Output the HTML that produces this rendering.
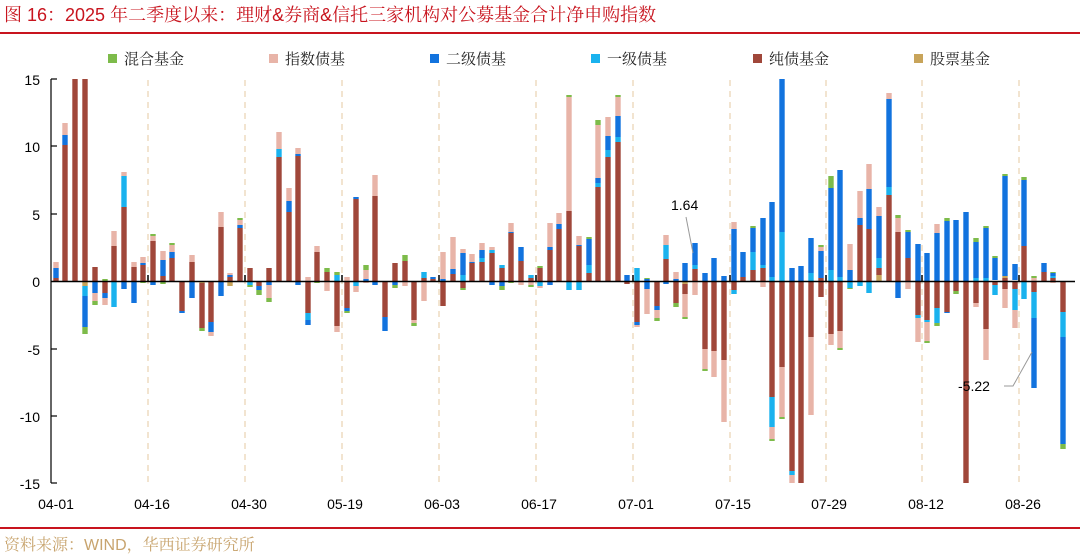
<!DOCTYPE html>
<html><head><meta charset="utf-8"><style>
html,body{margin:0;padding:0;background:#fff}
svg{display:block}
.t{font-family:"Liberation Sans",sans-serif;font-size:14px;fill:#000}
.cj{font-family:"Noto Serif CJK SC","Liberation Serif",serif;font-size:15px;fill:#222}
.B{fill:#a0473a}.P{fill:#e8b4a8}.U{fill:#1273de}.C{fill:#1ab2ee}.G{fill:#7dbb4a}.Y{fill:#c8a45a}
</style></head><body>
<svg width="1080" height="555" viewBox="0 0 1080 555" xmlns="http://www.w3.org/2000/svg">
<text x="4" y="21" style="font-family:'Liberation Sans','Noto Serif CJK SC',serif;font-size:18px;fill:#c8141e">图 16：2025 年二季度以来：理财&amp;券商&amp;信托三家机构对公募基金合计净申购指数</text>
<rect x="0" y="32" width="1080" height="2" fill="#c8141e"/>
<rect x="0" y="527" width="1080" height="2" fill="#c8141e"/>
<text x="4" y="550" style="font-family:'Liberation Sans','Noto Serif CJK SC',serif;font-size:16px;fill:#c8a46e">资料来源：WIND，华西证券研究所</text>
<rect x="108" y="54" width="9" height="9" class="G"/><text x="124" y="64" class="cj">混合基金</text>
<rect x="269" y="54" width="9" height="9" class="P"/><text x="285" y="64" class="cj">指数债基</text>
<rect x="430" y="54" width="9" height="9" class="U"/><text x="446" y="64" class="cj">二级债基</text>
<rect x="591" y="54" width="9" height="9" class="C"/><text x="607" y="64" class="cj">一级债基</text>
<rect x="753" y="54" width="9" height="9" class="B"/><text x="769" y="64" class="cj">纯债基金</text>
<rect x="914" y="54" width="9" height="9" class="Y"/><text x="930" y="64" class="cj">股票基金</text>
<g stroke="#eedcc0" stroke-width="1.5" stroke-dasharray="6,5">
<line x1="148" y1="80" x2="148" y2="483"/><line x1="245" y1="80" x2="245" y2="483"/><line x1="342" y1="80" x2="342" y2="483"/><line x1="439" y1="80" x2="439" y2="483"/><line x1="536" y1="80" x2="536" y2="483"/><line x1="633" y1="80" x2="633" y2="483"/><line x1="730" y1="80" x2="730" y2="483"/><line x1="826" y1="80" x2="826" y2="483"/><line x1="922" y1="80" x2="922" y2="483"/><line x1="1019" y1="80" x2="1019" y2="483"/>
</g>
<g stroke="#000" stroke-width="1.2">
<line x1="51" y1="79" x2="51" y2="483"/>
<line x1="51" y1="79" x2="57" y2="79"/><line x1="51" y1="146" x2="57" y2="146"/><line x1="51" y1="214" x2="57" y2="214"/><line x1="51" y1="349" x2="57" y2="349"/><line x1="51" y1="416" x2="57" y2="416"/><line x1="51" y1="483" x2="57" y2="483"/>
</g>
<g class="t" text-anchor="end">
<text x="40" y="85">15</text><text x="40" y="152">10</text><text x="40" y="220">5</text><text x="40" y="287">0</text><text x="40" y="355">-5</text><text x="40" y="422">-10</text><text x="40" y="489">-15</text>
</g>
<g class="t" text-anchor="middle">
<text x="56" y="509">04-01</text><text x="152" y="509">04-16</text><text x="249" y="509">04-30</text><text x="345" y="509">05-19</text><text x="442" y="509">06-03</text><text x="539" y="509">06-17</text><text x="636" y="509">07-01</text><text x="733" y="509">07-15</text><text x="829" y="509">07-29</text><text x="926" y="509">08-12</text><text x="1023" y="509">08-26</text>
</g>
<g>
<g transform="translate(56,0)"><rect x="-2.7" width="5.4" y="262" height="6" class="P"/><rect x="-2.7" width="5.4" y="268" height="10" class="U"/><rect x="-2.7" width="5.4" y="278" height="3" class="B"/></g>
<g transform="translate(65,0)"><rect x="-2.7" width="5.4" y="123" height="12" class="P"/><rect x="-2.7" width="5.4" y="135" height="10" class="U"/><rect x="-2.7" width="5.4" y="145" height="136" class="B"/></g>
<g transform="translate(75,0)"><rect x="-2.7" width="5.4" y="79" height="202" class="B"/></g>
<g transform="translate(85,0)"><rect x="-2.7" width="5.4" y="79" height="202" class="B"/><rect x="-2.7" width="5.4" y="281" height="5" class="Y"/><rect x="-2.7" width="5.4" y="286" height="10" class="C"/><rect x="-2.7" width="5.4" y="296" height="31" class="U"/><rect x="-2.7" width="5.4" y="327" height="7" class="G"/></g>
<g transform="translate(95,0)"><rect x="-2.7" width="5.4" y="267" height="14" class="B"/><rect x="-2.7" width="5.4" y="281" height="12" class="U"/><rect x="-2.7" width="5.4" y="293" height="8" class="P"/><rect x="-2.7" width="5.4" y="301" height="4" class="G"/></g>
<g transform="translate(105,0)"><rect x="-2.7" width="5.4" y="279" height="2" class="G"/><rect x="-2.7" width="5.4" y="281" height="12" class="B"/><rect x="-2.7" width="5.4" y="293" height="5" class="U"/><rect x="-2.7" width="5.4" y="298" height="7" class="P"/></g>
<g transform="translate(114,0)"><rect x="-2.7" width="5.4" y="231" height="15" class="P"/><rect x="-2.7" width="5.4" y="246" height="35" class="B"/><rect x="-2.7" width="5.4" y="281" height="26" class="C"/></g>
<g transform="translate(124,0)"><rect x="-2.7" width="5.4" y="172" height="4" class="P"/><rect x="-2.7" width="5.4" y="176" height="31" class="C"/><rect x="-2.7" width="5.4" y="207" height="74" class="B"/><rect x="-2.7" width="5.4" y="281" height="8" class="U"/></g>
<g transform="translate(134,0)"><rect x="-2.7" width="5.4" y="262" height="5" class="P"/><rect x="-2.7" width="5.4" y="267" height="14" class="B"/><rect x="-2.7" width="5.4" y="281" height="22" class="U"/></g>
<g transform="translate(143,0)"><rect x="-2.7" width="5.4" y="257" height="6" class="P"/><rect x="-2.7" width="5.4" y="263" height="2" class="U"/><rect x="-2.7" width="5.4" y="265" height="16" class="B"/><rect x="-2.7" width="5.4" y="281" height="2" class="G"/></g>
<g transform="translate(153,0)"><rect x="-2.7" width="5.4" y="234" height="2" class="G"/><rect x="-2.7" width="5.4" y="236" height="5" class="P"/><rect x="-2.7" width="5.4" y="241" height="40" class="B"/><rect x="-2.7" width="5.4" y="281" height="4" class="U"/></g>
<g transform="translate(163,0)"><rect x="-2.7" width="5.4" y="251" height="9" class="P"/><rect x="-2.7" width="5.4" y="260" height="16" class="U"/><rect x="-2.7" width="5.4" y="276" height="5" class="B"/><rect x="-2.7" width="5.4" y="281" height="3" class="G"/></g>
<g transform="translate(172,0)"><rect x="-2.7" width="5.4" y="243" height="2" class="G"/><rect x="-2.7" width="5.4" y="245" height="7" class="P"/><rect x="-2.7" width="5.4" y="252" height="6" class="U"/><rect x="-2.7" width="5.4" y="258" height="23" class="B"/></g>
<g transform="translate(182,0)"><rect x="-2.7" width="5.4" y="281" height="30" class="B"/><rect x="-2.7" width="5.4" y="311" height="2" class="U"/></g>
<g transform="translate(192,0)"><rect x="-2.7" width="5.4" y="255" height="7" class="P"/><rect x="-2.7" width="5.4" y="262" height="19" class="B"/><rect x="-2.7" width="5.4" y="281" height="17" class="U"/></g>
<g transform="translate(202,0)"><rect x="-2.7" width="5.4" y="281" height="2" class="Y"/><rect x="-2.7" width="5.4" y="283" height="45" class="B"/><rect x="-2.7" width="5.4" y="328" height="3" class="G"/></g>
<g transform="translate(211,0)"><rect x="-2.7" width="5.4" y="281" height="41" class="B"/><rect x="-2.7" width="5.4" y="322" height="10" class="U"/><rect x="-2.7" width="5.4" y="332" height="4" class="P"/></g>
<g transform="translate(221,0)"><rect x="-2.7" width="5.4" y="212" height="15" class="P"/><rect x="-2.7" width="5.4" y="227" height="54" class="B"/><rect x="-2.7" width="5.4" y="281" height="15" class="U"/></g>
<g transform="translate(230,0)"><rect x="-2.7" width="5.4" y="273" height="2" class="P"/><rect x="-2.7" width="5.4" y="275" height="2" class="U"/><rect x="-2.7" width="5.4" y="277" height="4" class="B"/><rect x="-2.7" width="5.4" y="281" height="5" class="Y"/></g>
<g transform="translate(240,0)"><rect x="-2.7" width="5.4" y="218" height="2" class="G"/><rect x="-2.7" width="5.4" y="220" height="5" class="P"/><rect x="-2.7" width="5.4" y="225" height="3" class="U"/><rect x="-2.7" width="5.4" y="228" height="53" class="B"/></g>
<g transform="translate(250,0)"><rect x="-2.7" width="5.4" y="268" height="13" class="B"/><rect x="-2.7" width="5.4" y="281" height="4" class="C"/><rect x="-2.7" width="5.4" y="285" height="2" class="G"/></g>
<g transform="translate(259,0)"><rect x="-2.7" width="5.4" y="281" height="5" class="B"/><rect x="-2.7" width="5.4" y="286" height="4" class="U"/><rect x="-2.7" width="5.4" y="290" height="5" class="G"/></g>
<g transform="translate(269,0)"><rect x="-2.7" width="5.4" y="268" height="13" class="B"/><rect x="-2.7" width="5.4" y="281" height="4" class="U"/><rect x="-2.7" width="5.4" y="285" height="13" class="P"/><rect x="-2.7" width="5.4" y="298" height="4" class="G"/></g>
<g transform="translate(279,0)"><rect x="-2.7" width="5.4" y="132" height="17" class="P"/><rect x="-2.7" width="5.4" y="149" height="8" class="C"/><rect x="-2.7" width="5.4" y="157" height="124" class="B"/></g>
<g transform="translate(289,0)"><rect x="-2.7" width="5.4" y="188" height="13" class="P"/><rect x="-2.7" width="5.4" y="201" height="11" class="U"/><rect x="-2.7" width="5.4" y="212" height="69" class="B"/></g>
<g transform="translate(298,0)"><rect x="-2.7" width="5.4" y="148" height="6" class="P"/><rect x="-2.7" width="5.4" y="154" height="2" class="U"/><rect x="-2.7" width="5.4" y="156" height="125" class="B"/><rect x="-2.7" width="5.4" y="281" height="4" class="U"/></g>
<g transform="translate(308,0)"><rect x="-2.7" width="5.4" y="277" height="4" class="P"/><rect x="-2.7" width="5.4" y="281" height="32" class="B"/><rect x="-2.7" width="5.4" y="313" height="7" class="C"/><rect x="-2.7" width="5.4" y="320" height="5" class="U"/></g>
<g transform="translate(317,0)"><rect x="-2.7" width="5.4" y="246" height="6" class="P"/><rect x="-2.7" width="5.4" y="252" height="29" class="B"/><rect x="-2.7" width="5.4" y="281" height="2" class="G"/></g>
<g transform="translate(327,0)"><rect x="-2.7" width="5.4" y="268" height="4" class="G"/><rect x="-2.7" width="5.4" y="272" height="9" class="B"/><rect x="-2.7" width="5.4" y="281" height="10" class="P"/></g>
<g transform="translate(337,0)"><rect x="-2.7" width="5.4" y="272" height="3" class="G"/><rect x="-2.7" width="5.4" y="275" height="6" class="C"/><rect x="-2.7" width="5.4" y="281" height="45" class="B"/><rect x="-2.7" width="5.4" y="326" height="6" class="P"/></g>
<g transform="translate(347,0)"><rect x="-2.7" width="5.4" y="277" height="4" class="P"/><rect x="-2.7" width="5.4" y="281" height="27" class="B"/><rect x="-2.7" width="5.4" y="308" height="3" class="U"/><rect x="-2.7" width="5.4" y="311" height="2" class="G"/></g>
<g transform="translate(356,0)"><rect x="-2.7" width="5.4" y="197" height="2" class="U"/><rect x="-2.7" width="5.4" y="199" height="82" class="B"/><rect x="-2.7" width="5.4" y="281" height="5" class="C"/><rect x="-2.7" width="5.4" y="286" height="6" class="P"/></g>
<g transform="translate(366,0)"><rect x="-2.7" width="5.4" y="265" height="5" class="G"/><rect x="-2.7" width="5.4" y="270" height="9" class="P"/><rect x="-2.7" width="5.4" y="279" height="2" class="U"/><rect x="-2.7" width="5.4" y="281" height="2" class="P"/></g>
<g transform="translate(375,0)"><rect x="-2.7" width="5.4" y="175" height="21" class="P"/><rect x="-2.7" width="5.4" y="196" height="85" class="B"/><rect x="-2.7" width="5.4" y="281" height="4" class="U"/></g>
<g transform="translate(385,0)"><rect x="-2.7" width="5.4" y="281" height="36" class="B"/><rect x="-2.7" width="5.4" y="317" height="14" class="U"/></g>
<g transform="translate(395,0)"><rect x="-2.7" width="5.4" y="263" height="18" class="B"/><rect x="-2.7" width="5.4" y="281" height="4" class="U"/><rect x="-2.7" width="5.4" y="285" height="3" class="G"/></g>
<g transform="translate(405,0)"><rect x="-2.7" width="5.4" y="255" height="6" class="G"/><rect x="-2.7" width="5.4" y="261" height="20" class="B"/><rect x="-2.7" width="5.4" y="281" height="5" class="P"/></g>
<g transform="translate(414,0)"><rect x="-2.7" width="5.4" y="281" height="39" class="B"/><rect x="-2.7" width="5.4" y="320" height="3" class="P"/><rect x="-2.7" width="5.4" y="323" height="3" class="G"/></g>
<g transform="translate(424,0)"><rect x="-2.7" width="5.4" y="272" height="6" class="C"/><rect x="-2.7" width="5.4" y="278" height="3" class="B"/><rect x="-2.7" width="5.4" y="281" height="20" class="P"/></g>
<g transform="translate(433,0)"><rect x="-2.7" width="5.4" y="277" height="2" class="U"/><rect x="-2.7" width="5.4" y="279" height="2" class="B"/></g>
<g transform="translate(443,0)"><rect x="-2.7" width="5.4" y="252" height="27" class="P"/><rect x="-2.7" width="5.4" y="279" height="2" class="U"/><rect x="-2.7" width="5.4" y="281" height="25" class="B"/></g>
<g transform="translate(453,0)"><rect x="-2.7" width="5.4" y="237" height="32" class="P"/><rect x="-2.7" width="5.4" y="269" height="5" class="U"/><rect x="-2.7" width="5.4" y="274" height="7" class="B"/></g>
<g transform="translate(463,0)"><rect x="-2.7" width="5.4" y="249" height="4" class="P"/><rect x="-2.7" width="5.4" y="253" height="22" class="U"/><rect x="-2.7" width="5.4" y="275" height="6" class="C"/><rect x="-2.7" width="5.4" y="281" height="7" class="B"/><rect x="-2.7" width="5.4" y="288" height="2" class="G"/></g>
<g transform="translate(472,0)"><rect x="-2.7" width="5.4" y="254" height="8" class="P"/><rect x="-2.7" width="5.4" y="262" height="1" class="U"/><rect x="-2.7" width="5.4" y="263" height="18" class="B"/></g>
<g transform="translate(482,0)"><rect x="-2.7" width="5.4" y="243" height="7" class="P"/><rect x="-2.7" width="5.4" y="250" height="8" class="U"/><rect x="-2.7" width="5.4" y="258" height="4" class="C"/><rect x="-2.7" width="5.4" y="262" height="19" class="B"/></g>
<g transform="translate(492,0)"><rect x="-2.7" width="5.4" y="247" height="3" class="P"/><rect x="-2.7" width="5.4" y="250" height="3" class="C"/><rect x="-2.7" width="5.4" y="253" height="28" class="B"/><rect x="-2.7" width="5.4" y="281" height="4" class="U"/></g>
<g transform="translate(502,0)"><rect x="-2.7" width="5.4" y="265" height="3" class="C"/><rect x="-2.7" width="5.4" y="268" height="13" class="B"/><rect x="-2.7" width="5.4" y="281" height="5" class="U"/><rect x="-2.7" width="5.4" y="286" height="4" class="G"/></g>
<g transform="translate(511,0)"><rect x="-2.7" width="5.4" y="223" height="9" class="P"/><rect x="-2.7" width="5.4" y="232" height="1" class="U"/><rect x="-2.7" width="5.4" y="233" height="48" class="B"/><rect x="-2.7" width="5.4" y="281" height="2" class="G"/></g>
<g transform="translate(521,0)"><rect x="-2.7" width="5.4" y="247" height="14" class="U"/><rect x="-2.7" width="5.4" y="261" height="20" class="B"/><rect x="-2.7" width="5.4" y="281" height="4" class="P"/></g>
<g transform="translate(531,0)"><rect x="-2.7" width="5.4" y="275" height="3" class="C"/><rect x="-2.7" width="5.4" y="278" height="3" class="B"/><rect x="-2.7" width="5.4" y="281" height="4" class="P"/><rect x="-2.7" width="5.4" y="285" height="2" class="G"/></g>
<g transform="translate(540,0)"><rect x="-2.7" width="5.4" y="266" height="2" class="G"/><rect x="-2.7" width="5.4" y="268" height="13" class="B"/><rect x="-2.7" width="5.4" y="281" height="5" class="C"/><rect x="-2.7" width="5.4" y="286" height="2" class="P"/></g>
<g transform="translate(550,0)"><rect x="-2.7" width="5.4" y="223" height="24" class="P"/><rect x="-2.7" width="5.4" y="247" height="3" class="U"/><rect x="-2.7" width="5.4" y="250" height="31" class="B"/><rect x="-2.7" width="5.4" y="281" height="4" class="U"/></g>
<g transform="translate(559,0)"><rect x="-2.7" width="5.4" y="213" height="11" class="P"/><rect x="-2.7" width="5.4" y="224" height="5" class="U"/><rect x="-2.7" width="5.4" y="229" height="52" class="B"/></g>
<g transform="translate(569,0)"><rect x="-2.7" width="5.4" y="95" height="2" class="G"/><rect x="-2.7" width="5.4" y="97" height="114" class="P"/><rect x="-2.7" width="5.4" y="211" height="70" class="B"/><rect x="-2.7" width="5.4" y="281" height="9" class="C"/></g>
<g transform="translate(579,0)"><rect x="-2.7" width="5.4" y="236" height="9" class="P"/><rect x="-2.7" width="5.4" y="245" height="1" class="U"/><rect x="-2.7" width="5.4" y="246" height="35" class="B"/><rect x="-2.7" width="5.4" y="281" height="9" class="C"/></g>
<g transform="translate(589,0)"><rect x="-2.7" width="5.4" y="237" height="2" class="G"/><rect x="-2.7" width="5.4" y="239" height="26" class="U"/><rect x="-2.7" width="5.4" y="265" height="8" class="C"/><rect x="-2.7" width="5.4" y="273" height="8" class="B"/></g>
<g transform="translate(598,0)"><rect x="-2.7" width="5.4" y="120" height="5" class="G"/><rect x="-2.7" width="5.4" y="125" height="53" class="P"/><rect x="-2.7" width="5.4" y="178" height="5" class="U"/><rect x="-2.7" width="5.4" y="183" height="4" class="C"/><rect x="-2.7" width="5.4" y="187" height="94" class="B"/></g>
<g transform="translate(608,0)"><rect x="-2.7" width="5.4" y="117" height="19" class="P"/><rect x="-2.7" width="5.4" y="136" height="14" class="U"/><rect x="-2.7" width="5.4" y="150" height="7" class="C"/><rect x="-2.7" width="5.4" y="157" height="124" class="B"/></g>
<g transform="translate(618,0)"><rect x="-2.7" width="5.4" y="95" height="2" class="G"/><rect x="-2.7" width="5.4" y="97" height="19" class="P"/><rect x="-2.7" width="5.4" y="116" height="21" class="U"/><rect x="-2.7" width="5.4" y="137" height="5" class="C"/><rect x="-2.7" width="5.4" y="142" height="139" class="B"/></g>
<g transform="translate(627,0)"><rect x="-2.7" width="5.4" y="275" height="6" class="U"/><rect x="-2.7" width="5.4" y="281" height="3" class="B"/></g>
<g transform="translate(637,0)"><rect x="-2.7" width="5.4" y="268" height="13" class="C"/><rect x="-2.7" width="5.4" y="281" height="41" class="B"/><rect x="-2.7" width="5.4" y="322" height="3" class="U"/><rect x="-2.7" width="5.4" y="325" height="2" class="P"/></g>
<g transform="translate(647,0)"><rect x="-2.7" width="5.4" y="278" height="1" class="G"/><rect x="-2.7" width="5.4" y="279" height="10" class="U"/><rect x="-2.7" width="5.4" y="289" height="25" class="P"/></g>
<g transform="translate(657,0)"><rect x="-2.7" width="5.4" y="281" height="25" class="B"/><rect x="-2.7" width="5.4" y="306" height="4" class="U"/><rect x="-2.7" width="5.4" y="310" height="8" class="P"/><rect x="-2.7" width="5.4" y="318" height="3" class="G"/></g>
<g transform="translate(666,0)"><rect x="-2.7" width="5.4" y="235" height="10" class="P"/><rect x="-2.7" width="5.4" y="245" height="14" class="C"/><rect x="-2.7" width="5.4" y="259" height="22" class="B"/><rect x="-2.7" width="5.4" y="281" height="3" class="U"/></g>
<g transform="translate(676,0)"><rect x="-2.7" width="5.4" y="272" height="7" class="P"/><rect x="-2.7" width="5.4" y="279" height="2" class="U"/><rect x="-2.7" width="5.4" y="281" height="22" class="B"/><rect x="-2.7" width="5.4" y="303" height="4" class="G"/></g>
<g transform="translate(685,0)"><rect x="-2.7" width="5.4" y="263" height="18" class="U"/><rect x="-2.7" width="5.4" y="281" height="3" class="Y"/><rect x="-2.7" width="5.4" y="284" height="10" class="B"/><rect x="-2.7" width="5.4" y="294" height="23" class="P"/><rect x="-2.7" width="5.4" y="317" height="2" class="G"/></g>
<g transform="translate(695,0)"><rect x="-2.7" width="5.4" y="243" height="22" class="U"/><rect x="-2.7" width="5.4" y="265" height="4" class="C"/><rect x="-2.7" width="5.4" y="269" height="12" class="B"/><rect x="-2.7" width="5.4" y="281" height="14" class="P"/></g>
<g transform="translate(705,0)"><rect x="-2.7" width="5.4" y="273" height="8" class="U"/><rect x="-2.7" width="5.4" y="281" height="68" class="B"/><rect x="-2.7" width="5.4" y="349" height="20" class="P"/><rect x="-2.7" width="5.4" y="369" height="2" class="G"/></g>
<g transform="translate(714,0)"><rect x="-2.7" width="5.4" y="258" height="23" class="U"/><rect x="-2.7" width="5.4" y="281" height="70" class="B"/><rect x="-2.7" width="5.4" y="351" height="26" class="P"/></g>
<g transform="translate(724,0)"><rect x="-2.7" width="5.4" y="276" height="5" class="U"/><rect x="-2.7" width="5.4" y="281" height="79" class="B"/><rect x="-2.7" width="5.4" y="360" height="62" class="P"/></g>
<g transform="translate(734,0)"><rect x="-2.7" width="5.4" y="222" height="7" class="P"/><rect x="-2.7" width="5.4" y="229" height="52" class="U"/><rect x="-2.7" width="5.4" y="281" height="9" class="B"/><rect x="-2.7" width="5.4" y="290" height="4" class="C"/></g>
<g transform="translate(743,0)"><rect x="-2.7" width="5.4" y="252" height="25" class="U"/><rect x="-2.7" width="5.4" y="277" height="4" class="B"/></g>
<g transform="translate(753,0)"><rect x="-2.7" width="5.4" y="226" height="2" class="G"/><rect x="-2.7" width="5.4" y="228" height="24" class="U"/><rect x="-2.7" width="5.4" y="252" height="18" class="C"/><rect x="-2.7" width="5.4" y="270" height="11" class="B"/></g>
<g transform="translate(763,0)"><rect x="-2.7" width="5.4" y="218" height="47" class="U"/><rect x="-2.7" width="5.4" y="265" height="3" class="C"/><rect x="-2.7" width="5.4" y="268" height="13" class="B"/><rect x="-2.7" width="5.4" y="281" height="6" class="P"/></g>
<g transform="translate(772,0)"><rect x="-2.7" width="5.4" y="202" height="75" class="U"/><rect x="-2.7" width="5.4" y="277" height="4" class="C"/><rect x="-2.7" width="5.4" y="281" height="116" class="B"/><rect x="-2.7" width="5.4" y="397" height="30" class="C"/><rect x="-2.7" width="5.4" y="427" height="12" class="P"/><rect x="-2.7" width="5.4" y="439" height="2" class="G"/></g>
<g transform="translate(782,0)"><rect x="-2.7" width="5.4" y="79" height="153" class="U"/><rect x="-2.7" width="5.4" y="232" height="49" class="C"/><rect x="-2.7" width="5.4" y="281" height="86" class="B"/><rect x="-2.7" width="5.4" y="367" height="50" class="P"/><rect x="-2.7" width="5.4" y="417" height="2" class="G"/></g>
<g transform="translate(792,0)"><rect x="-2.7" width="5.4" y="268" height="13" class="U"/><rect x="-2.7" width="5.4" y="281" height="190" class="B"/><rect x="-2.7" width="5.4" y="471" height="4" class="C"/><rect x="-2.7" width="5.4" y="475" height="8" class="P"/></g>
<g transform="translate(801,0)"><rect x="-2.7" width="5.4" y="266" height="15" class="U"/><rect x="-2.7" width="5.4" y="281" height="202" class="B"/></g>
<g transform="translate(811,0)"><rect x="-2.7" width="5.4" y="238" height="35" class="U"/><rect x="-2.7" width="5.4" y="273" height="8" class="C"/><rect x="-2.7" width="5.4" y="281" height="56" class="B"/><rect x="-2.7" width="5.4" y="337" height="78" class="P"/></g>
<g transform="translate(821,0)"><rect x="-2.7" width="5.4" y="245" height="2" class="G"/><rect x="-2.7" width="5.4" y="247" height="4" class="P"/><rect x="-2.7" width="5.4" y="251" height="27" class="U"/><rect x="-2.7" width="5.4" y="278" height="19" class="B"/></g>
<g transform="translate(831,0)"><rect x="-2.7" width="5.4" y="176" height="12" class="G"/><rect x="-2.7" width="5.4" y="188" height="82" class="U"/><rect x="-2.7" width="5.4" y="270" height="11" class="C"/><rect x="-2.7" width="5.4" y="281" height="53" class="B"/><rect x="-2.7" width="5.4" y="334" height="11" class="P"/></g>
<g transform="translate(840,0)"><rect x="-2.7" width="5.4" y="170" height="107" class="U"/><rect x="-2.7" width="5.4" y="277" height="4" class="C"/><rect x="-2.7" width="5.4" y="281" height="50" class="B"/><rect x="-2.7" width="5.4" y="331" height="17" class="P"/><rect x="-2.7" width="5.4" y="348" height="2" class="G"/></g>
<g transform="translate(850,0)"><rect x="-2.7" width="5.4" y="244" height="26" class="P"/><rect x="-2.7" width="5.4" y="270" height="11" class="U"/><rect x="-2.7" width="5.4" y="281" height="7" class="C"/><rect x="-2.7" width="5.4" y="288" height="1" class="G"/></g>
<g transform="translate(860,0)"><rect x="-2.7" width="5.4" y="191" height="27" class="P"/><rect x="-2.7" width="5.4" y="218" height="7" class="U"/><rect x="-2.7" width="5.4" y="225" height="56" class="B"/><rect x="-2.7" width="5.4" y="281" height="5" class="C"/></g>
<g transform="translate(869,0)"><rect x="-2.7" width="5.4" y="164" height="25" class="P"/><rect x="-2.7" width="5.4" y="189" height="40" class="U"/><rect x="-2.7" width="5.4" y="229" height="52" class="B"/><rect x="-2.7" width="5.4" y="281" height="12" class="C"/></g>
<g transform="translate(879,0)"><rect x="-2.7" width="5.4" y="207" height="9" class="P"/><rect x="-2.7" width="5.4" y="216" height="42" class="U"/><rect x="-2.7" width="5.4" y="258" height="10" class="C"/><rect x="-2.7" width="5.4" y="268" height="7" class="B"/><rect x="-2.7" width="5.4" y="275" height="6" class="Y"/></g>
<g transform="translate(889,0)"><rect x="-2.7" width="5.4" y="93" height="6" class="P"/><rect x="-2.7" width="5.4" y="99" height="88" class="U"/><rect x="-2.7" width="5.4" y="187" height="8" class="C"/><rect x="-2.7" width="5.4" y="195" height="86" class="B"/></g>
<g transform="translate(898,0)"><rect x="-2.7" width="5.4" y="215" height="3" class="G"/><rect x="-2.7" width="5.4" y="218" height="14" class="P"/><rect x="-2.7" width="5.4" y="232" height="49" class="B"/><rect x="-2.7" width="5.4" y="281" height="17" class="U"/></g>
<g transform="translate(908,0)"><rect x="-2.7" width="5.4" y="230" height="2" class="G"/><rect x="-2.7" width="5.4" y="232" height="26" class="U"/><rect x="-2.7" width="5.4" y="258" height="23" class="B"/><rect x="-2.7" width="5.4" y="281" height="8" class="P"/></g>
<g transform="translate(918,0)"><rect x="-2.7" width="5.4" y="244" height="37" class="U"/><rect x="-2.7" width="5.4" y="281" height="34" class="B"/><rect x="-2.7" width="5.4" y="315" height="3" class="C"/><rect x="-2.7" width="5.4" y="318" height="24" class="P"/></g>
<g transform="translate(927,0)"><rect x="-2.7" width="5.4" y="253" height="28" class="U"/><rect x="-2.7" width="5.4" y="281" height="39" class="B"/><rect x="-2.7" width="5.4" y="320" height="2" class="C"/><rect x="-2.7" width="5.4" y="322" height="19" class="P"/><rect x="-2.7" width="5.4" y="341" height="2" class="G"/></g>
<g transform="translate(937,0)"><rect x="-2.7" width="5.4" y="224" height="9" class="P"/><rect x="-2.7" width="5.4" y="233" height="48" class="U"/><rect x="-2.7" width="5.4" y="281" height="27" class="B"/><rect x="-2.7" width="5.4" y="308" height="15" class="C"/><rect x="-2.7" width="5.4" y="323" height="3" class="G"/></g>
<g transform="translate(947,0)"><rect x="-2.7" width="5.4" y="218" height="3" class="G"/><rect x="-2.7" width="5.4" y="221" height="60" class="U"/><rect x="-2.7" width="5.4" y="281" height="31" class="B"/><rect x="-2.7" width="5.4" y="312" height="1" class="U"/></g>
<g transform="translate(956,0)"><rect x="-2.7" width="5.4" y="220" height="61" class="U"/><rect x="-2.7" width="5.4" y="281" height="10" class="B"/><rect x="-2.7" width="5.4" y="291" height="3" class="G"/></g>
<g transform="translate(966,0)"><rect x="-2.7" width="5.4" y="212" height="69" class="U"/><rect x="-2.7" width="5.4" y="281" height="202" class="B"/></g>
<g transform="translate(976,0)"><rect x="-2.7" width="5.4" y="238" height="4" class="G"/><rect x="-2.7" width="5.4" y="242" height="36" class="U"/><rect x="-2.7" width="5.4" y="278" height="3" class="C"/><rect x="-2.7" width="5.4" y="281" height="22" class="B"/><rect x="-2.7" width="5.4" y="303" height="4" class="P"/></g>
<g transform="translate(986,0)"><rect x="-2.7" width="5.4" y="226" height="2" class="G"/><rect x="-2.7" width="5.4" y="228" height="50" class="U"/><rect x="-2.7" width="5.4" y="278" height="3" class="C"/><rect x="-2.7" width="5.4" y="281" height="48" class="B"/><rect x="-2.7" width="5.4" y="329" height="31" class="P"/></g>
<g transform="translate(995,0)"><rect x="-2.7" width="5.4" y="256" height="2" class="G"/><rect x="-2.7" width="5.4" y="258" height="22" class="U"/><rect x="-2.7" width="5.4" y="281" height="4" class="B"/><rect x="-2.7" width="5.4" y="285" height="10" class="C"/></g>
<g transform="translate(1005,0)"><rect x="-2.7" width="5.4" y="174" height="2" class="G"/><rect x="-2.7" width="5.4" y="176" height="100" class="U"/><rect x="-2.7" width="5.4" y="276" height="2" class="Y"/><rect x="-2.7" width="5.4" y="278" height="11" class="B"/><rect x="-2.7" width="5.4" y="289" height="19" class="P"/></g>
<g transform="translate(1015,0)"><rect x="-2.7" width="5.4" y="264" height="16" class="U"/><rect x="-2.7" width="5.4" y="281" height="8" class="B"/><rect x="-2.7" width="5.4" y="289" height="21" class="C"/><rect x="-2.7" width="5.4" y="310" height="18" class="P"/></g>
<g transform="translate(1024,0)"><rect x="-2.7" width="5.4" y="177" height="3" class="G"/><rect x="-2.7" width="5.4" y="180" height="66" class="U"/><rect x="-2.7" width="5.4" y="246" height="35" class="B"/><rect x="-2.7" width="5.4" y="281" height="18" class="C"/></g>
<g transform="translate(1034,0)"><rect x="-2.7" width="5.4" y="276" height="2" class="G"/><rect x="-2.7" width="5.4" y="278" height="3" class="P"/><rect x="-2.7" width="5.4" y="281" height="11" class="B"/><rect x="-2.7" width="5.4" y="292" height="26" class="C"/><rect x="-2.7" width="5.4" y="318" height="70" class="U"/></g>
<g transform="translate(1044,0)"><rect x="-2.7" width="5.4" y="263" height="9" class="U"/><rect x="-2.7" width="5.4" y="272" height="9" class="B"/></g>
<g transform="translate(1053,0)"><rect x="-2.7" width="5.4" y="272" height="1" class="G"/><rect x="-2.7" width="5.4" y="273" height="3" class="U"/><rect x="-2.7" width="5.4" y="276" height="2" class="C"/><rect x="-2.7" width="5.4" y="278" height="3" class="B"/><rect x="-2.7" width="5.4" y="281" height="2" class="P"/></g>
<g transform="translate(1063,0)"><rect x="-2.7" width="5.4" y="281" height="31" class="B"/><rect x="-2.7" width="5.4" y="312" height="25" class="C"/><rect x="-2.7" width="5.4" y="337" height="107" class="U"/><rect x="-2.7" width="5.4" y="444" height="5" class="G"/></g>
</g>
<line x1="51" y1="281.5" x2="1075" y2="281.5" stroke="#000" stroke-width="1.5"/>
<g stroke="#000" stroke-width="1.5">
<line x1="148" y1="275" x2="148" y2="281"/><line x1="245" y1="275" x2="245" y2="281"/><line x1="342" y1="275" x2="342" y2="281"/><line x1="439" y1="275" x2="439" y2="281"/><line x1="536" y1="275" x2="536" y2="281"/><line x1="633" y1="275" x2="633" y2="281"/><line x1="730" y1="275" x2="730" y2="281"/><line x1="826" y1="275" x2="826" y2="281"/><line x1="922" y1="275" x2="922" y2="281"/><line x1="1019" y1="275" x2="1019" y2="281"/>
</g>
<text x="671" y="210" class="t">1.64</text>
<line x1="686" y1="217" x2="693" y2="253" stroke="#999" stroke-width="1"/>
<text x="958" y="391" class="t">-5.22</text>
<polyline points="1004,386 1013,386 1032,352" fill="none" stroke="#999" stroke-width="1"/>
</svg>
</body></html>
